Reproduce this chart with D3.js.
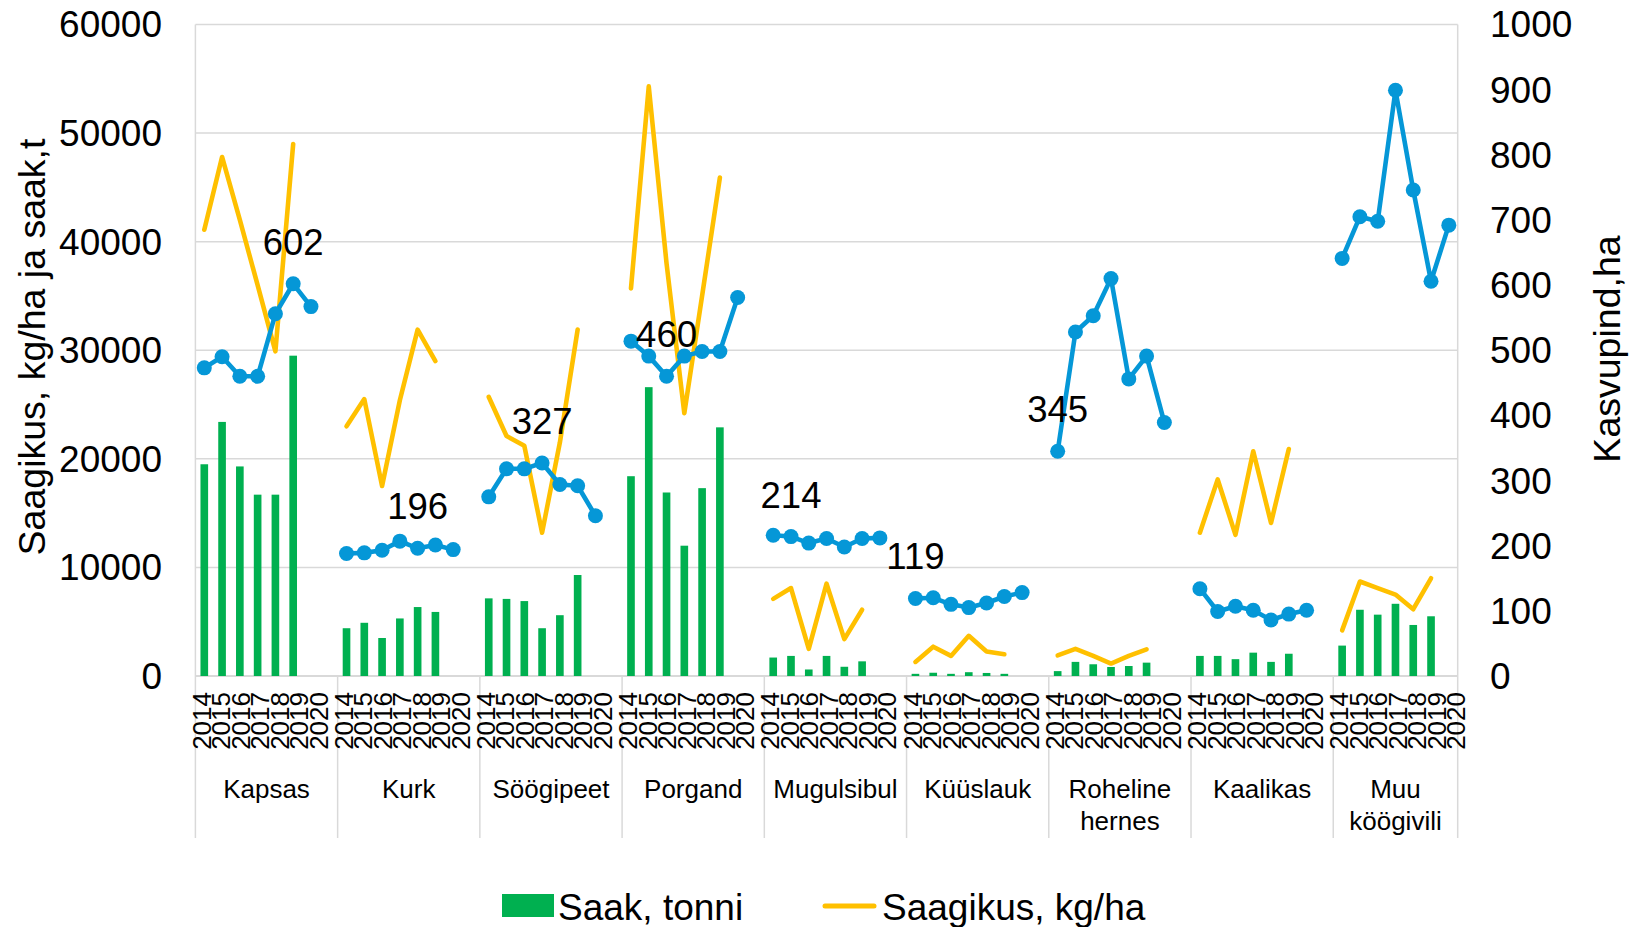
<!DOCTYPE html>
<html>
<head>
<meta charset="utf-8">
<script src="https://cdn.jsdelivr.net/npm/d3@7"></script>
<style>
  body { margin: 0; background: #fff; }
  text { font-family: "Liberation Sans", Arial, sans-serif; fill: #000; }
</style>
</head>
<body>
<div id="chart"></div>
<script>
// köögiviljad, aastad 2014-2020
const groups = ["Kapsas", "Kurk", "Söögipeet", "Porgand", "Mugulsibul", "Küüslauk", "Roheline hernes", "Kaalikas", "Muu köögivili"];
const years = ["2014", "2015", "2016", "2017", "2018", "2019", "2020"];

// Saak, tonni (2014-2019)
const saak = [
    [19500, 23400, 19300, 16700, 16700, 29500],
    [4400, 4900, 3500, 5300, 6350, 5900],
    [7150, 7100, 6900, 4400, 5600, 9300],
    [18400, 26600, 16900, 12000, 17300, 22900],
    [1700, 1850, 600, 1850, 850, 1350],
    [200, 300, 200, 350, 280, 200],
    [450, 1300, 1080, 830, 920, 1230],
    [1850, 1850, 1550, 2150, 1300, 2050],
    [2800, 6100, 5650, 6650, 4700, 5500]
];

// Saagikus, kg/ha (2014-2019)
const saagikus = [
    [41100, 47800, 42000, 36000, 29900, 49000],
    [23000, 25500, 17500, 25400, 31900, 29000],
    [25700, 22100, 21200, 13200, 21500, 31900],
    [35700, 54300, 38000, 24200, 35000, 45900],
    [7100, 8100, 2500, 8500, 3400, 6100],
    [1300, 2700, 1850, 3700, 2250, 2000],
    [1900, 2500, 1850, 1150, 1850, 2450],
    [13200, 18100, 13000, 20700, 14100, 20900],
    [4200, 8700, 8100, 7500, 6150, 9000]
];

// Kasvupind, ha (2014-2020)
const kasvupind = [
    [473, 490, 460, 460, 556, 602, 567],
    [188, 189, 193, 207, 196, 201, 194],
    [275, 318, 318, 327, 294, 292, 246],
    [514, 491, 460, 491, 498, 498, 581],
    [216, 214, 204, 211, 198, 211, 212],
    [119, 120, 110, 105, 112, 122, 128],
    [345, 528, 553, 610, 456, 491, 389],
    [134, 99, 107, 101, 86, 95, 101],
    [641, 705, 698, 899, 746, 606, 692]
];

// millise aasta punktil on silt (indeks), null = silti pole
const labelAt = [5, 4, 3, 2, 1, 0, 0, null, null];

const leftTicks = [0, 10000, 20000, 30000, 40000, 50000, 60000];
const rightTicks = [0, 100, 200, 300, 400, 500, 600, 700, 800, 900, 1000];

const W = 1640, H = 927;
const plot = { left: 195.4, right: 1457.7, top: 24.5, bottom: 676 };

const green = "#00b050", yellow = "#ffc000", blue = "#0597d7", grid = "#d9d9d9";

// kategooriad: iga grupi aastad + tühi vahe (v.a viimane)
let keys = [];
groups.forEach(function(g, gi) {
    years.forEach(function(y) { keys.push(gi + "|" + y); });
    if (gi < groups.length - 1) keys.push(gi + "|gap");
});

let x = d3.scaleBand().domain(keys).range([plot.left, plot.right]).padding(0);
let bw = x.bandwidth();
let cx = function(gi, yi) { return x(gi + "|" + years[yi]) + bw / 2; };

let yL = d3.scaleLinear().domain([0, 60000]).range([plot.bottom, plot.top]);
let yR = d3.scaleLinear().domain([0, 1000]).range([plot.bottom, plot.top]);

let svg = d3.select("#chart").append("svg")
    .attr("width", W).attr("height", H);

svg.append("rect").attr("width", W).attr("height", H).attr("fill", "#fff");

// ruudustik
svg.append("g").selectAll("line")
    .data(leftTicks.slice(1))
    .enter().append("line")
    .attr("x1", plot.left).attr("x2", plot.right)
    .attr("y1", function(d) { return yL(d); })
    .attr("y2", function(d) { return yL(d); })
    .attr("stroke", grid).attr("stroke-width", 1.5);

// grupipiirid
let bounds = groups.map(function(g, gi) { return x(gi + "|2014"); });
bounds.push(plot.right);
svg.append("g").selectAll("line")
    .data(bounds)
    .enter().append("line")
    .attr("x1", function(d) { return d; })
    .attr("x2", function(d) { return d; })
    .attr("y1", function(d, i) { return (i === 0 || i === bounds.length - 1) ? plot.top : plot.bottom; })
    .attr("y2", 838)
    .attr("stroke", grid).attr("stroke-width", 1.5);

svg.append("line")
    .attr("x1", plot.left).attr("x2", plot.right)
    .attr("y1", plot.bottom).attr("y2", plot.bottom)
    .attr("stroke", grid).attr("stroke-width", 2);

// tulbad
let barW = bw * 0.43;
groups.forEach(function(g, gi) {
    svg.append("g").selectAll("rect")
        .data(saak[gi])
        .enter().append("rect")
        .attr("x", function(d, i) { return cx(gi, i) - barW / 2; })
        .attr("y", function(d) { return yL(d); })
        .attr("width", barW)
        .attr("height", function(d) { return yL(0) - yL(d); })
        .attr("fill", green);
});

// saagikus
let lineL = d3.line()
    .x(function(d, i) { return d.x; })
    .y(function(d) { return yL(d.v); });
groups.forEach(function(g, gi) {
    let pts = saagikus[gi].map(function(v, i) { return { x: cx(gi, i), v: v }; });
    svg.append("path")
        .datum(pts)
        .attr("d", lineL)
        .attr("fill", "none")
        .attr("stroke", yellow)
        .attr("stroke-width", 4.6)
        .attr("stroke-linecap", "round")
        .attr("stroke-linejoin", "round");
});

// kasvupind
let lineR = d3.line()
    .x(function(d) { return d.x; })
    .y(function(d) { return yR(d.v); });
groups.forEach(function(g, gi) {
    let pts = kasvupind[gi].map(function(v, i) { return { x: cx(gi, i), v: v }; });
    let gg = svg.append("g");
    gg.append("path")
        .datum(pts)
        .attr("d", lineR)
        .attr("fill", "none")
        .attr("stroke", blue)
        .attr("stroke-width", 4.6)
        .attr("stroke-linejoin", "round");
    gg.selectAll("circle")
        .data(pts)
        .enter().append("circle")
        .attr("cx", function(d) { return d.x; })
        .attr("cy", function(d) { return yR(d.v); })
        .attr("r", 7.5)
        .attr("fill", blue);
});

// andmesildid
groups.forEach(function(g, gi) {
    let li = labelAt[gi];
    if (li === null) return;
    let v = kasvupind[gi][li];
    svg.append("text")
        .attr("x", cx(gi, li))
        .attr("y", yR(v) - 29)
        .attr("text-anchor", "middle")
        .attr("font-size", 36.5)
        .text(v);
});

// vasak telg
svg.append("g").selectAll("text")
    .data(leftTicks)
    .enter().append("text")
    .attr("x", 162)
    .attr("y", function(d) { return yL(d); })
    .attr("dy", "0.35em")
    .attr("text-anchor", "end")
    .attr("font-size", 37)
    .text(function(d) { return d; });

// parem telg
svg.append("g").selectAll("text")
    .data(rightTicks)
    .enter().append("text")
    .attr("x", 1490)
    .attr("y", function(d) { return yR(d); })
    .attr("dy", "0.35em")
    .attr("text-anchor", "start")
    .attr("font-size", 37)
    .text(function(d) { return d; });

svg.append("text")
    .attr("transform", "translate(45,347) rotate(-90)")
    .attr("text-anchor", "middle")
    .attr("font-size", 37.5)
    .text("Saagikus, kg/ha ja saak,t");

svg.append("text")
    .attr("transform", "translate(1620,349) rotate(-90)")
    .attr("text-anchor", "middle")
    .attr("font-size", 37.5)
    .text("Kasvupind,ha");

// aastasildid
groups.forEach(function(g, gi) {
    let gStart = x(gi + "|2014");
    let ys = d3.scalePoint().domain(years).range([gStart + 6, gStart + 123]);
    svg.append("g").selectAll("text")
        .data(years)
        .enter().append("text")
        .attr("transform", function(d) { return "translate(" + ys(d) + ",692) rotate(-90)"; })
        .attr("dy", "0.35em")
        .attr("text-anchor", "end")
        .attr("font-size", 26)
        .text(function(d) { return d; });
});

// grupisildid
groups.forEach(function(g, gi) {
    let gStart = bounds[gi], gEnd = bounds[gi + 1];
    let t = svg.append("text")
        .attr("text-anchor", "middle")
        .attr("font-size", 26);
    g.split(" ").forEach(function(part, k) {
        t.append("tspan")
            .attr("x", (gStart + gEnd) / 2)
            .attr("y", 798 + k * 32)
            .text(part);
    });
});

// legend
let leg = svg.append("g");
leg.append("rect")
    .attr("x", 502).attr("y", 894).attr("width", 52).attr("height", 23)
    .attr("fill", green);
leg.append("text")
    .attr("x", 558).attr("y", 920)
    .attr("font-size", 37)
    .text("Saak, tonni");
leg.append("line")
    .attr("x1", 825).attr("x2", 874).attr("y1", 906).attr("y2", 906)
    .attr("stroke", yellow).attr("stroke-width", 5).attr("stroke-linecap", "round");
leg.append("text")
    .attr("x", 882).attr("y", 920)
    .attr("font-size", 37)
    .text("Saagikus, kg/ha");
</script>
</body>
</html>
